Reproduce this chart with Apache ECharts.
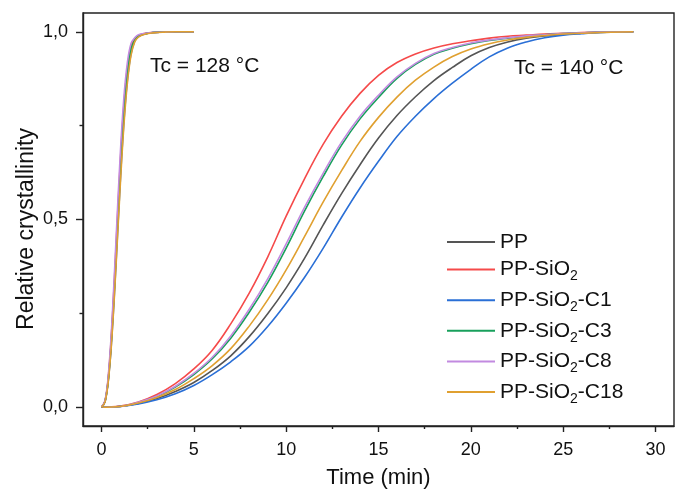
<!DOCTYPE html>
<html>
<head>
<meta charset="utf-8">
<script src="https://cdn.jsdelivr.net/npm/echarts@6/dist/echarts.min.js"></script>
<style>html,body{margin:0;padding:0;background:#fff}#c{width:680px;height:489px}</style>
</head>
<body>
<div id="c"></div>
<script>
// ---- data ----
const seriesNames = ['PP', 'PP-SiO2', 'PP-SiO2-C1', 'PP-SiO2-C3', 'PP-SiO2-C8', 'PP-SiO2-C18'];
const legendLabels = ['PP', 'PP-SiO{s|2}', 'PP-SiO{s|2}-C1', 'PP-SiO{s|2}-C3', 'PP-SiO{s|2}-C8', 'PP-SiO{s|2}-C18'];
const colors = ['#555555', '#f54a4a', '#2a6fd6', '#18a05c', '#c28ae0', '#e0a030'];

const xTicks = [0, 5, 10, 15, 20, 25, 30];
const xMinorTicks = [2.5, 7.5, 12.5, 17.5, 22.5, 27.5];
const yTicks = [0, 0.5, 1.0];
const yMinorTicks = [0.25, 0.75];

// Tc = 128 °C
const t128 = [0, 0.2, 0.4, 0.6, 0.8, 1.0, 1.2, 1.4, 1.6, 1.8, 2.0, 2.4, 2.8, 3.4, 4.0, 5.0];
const pp128   = [0, 0.017, 0.090, 0.229, 0.413, 0.605, 0.769, 0.883, 0.950, 0.977, 0.988, 0.995, 0.998, 0.999, 1, 1];
const sio128  = [0, 0.018, 0.097, 0.246, 0.440, 0.636, 0.797, 0.903, 0.961, 0.981, 0.990, 0.996, 0.998, 0.999, 1, 1];
const c1_128  = [0, 0.016, 0.085, 0.217, 0.395, 0.584, 0.750, 0.869, 0.941, 0.975, 0.987, 0.995, 0.998, 0.999, 1, 1];
const c3_128  = [0, 0.017, 0.092, 0.234, 0.421, 0.615, 0.778, 0.890, 0.954, 0.978, 0.989, 0.995, 0.998, 0.999, 1, 1];
const c8_128  = [0, 0.019, 0.103, 0.258, 0.459, 0.658, 0.816, 0.917, 0.969, 0.984, 0.992, 0.996, 0.998, 0.999, 1, 1];
const c18_128 = [0, 0.015, 0.083, 0.212, 0.387, 0.574, 0.740, 0.862, 0.937, 0.973, 0.986, 0.994, 0.997, 0.999, 1, 1];

// Tc = 140 °C
const t140 = [0, 1, 2, 3, 4, 5, 6, 7, 8, 9, 10, 11, 12, 13, 14, 15, 16, 17, 18, 19, 20, 21, 22, 23, 24, 25, 26, 27, 28.8];
const pp140   = [0, 0.002, 0.010, 0.023, 0.042, 0.066, 0.098, 0.137, 0.188, 0.249, 0.318, 0.397, 0.485, 0.569, 0.646, 0.717, 0.777, 0.827, 0.870, 0.905, 0.936, 0.958, 0.973, 0.983, 0.989, 0.993, 0.996, 0.998, 1.0];
const sio140  = [0, 0.003, 0.014, 0.034, 0.063, 0.102, 0.152, 0.222, 0.304, 0.400, 0.509, 0.609, 0.700, 0.775, 0.836, 0.884, 0.918, 0.941, 0.957, 0.968, 0.976, 0.983, 0.988, 0.991, 0.994, 0.996, 0.998, 0.999, 1.0];
const c1_140  = [0, 0.002, 0.009, 0.020, 0.036, 0.058, 0.087, 0.121, 0.162, 0.215, 0.277, 0.346, 0.423, 0.506, 0.584, 0.655, 0.721, 0.775, 0.822, 0.863, 0.900, 0.933, 0.957, 0.973, 0.984, 0.991, 0.995, 0.998, 1.0];
const c3_140  = [0, 0.002, 0.012, 0.029, 0.054, 0.087, 0.129, 0.184, 0.253, 0.332, 0.424, 0.523, 0.614, 0.698, 0.768, 0.825, 0.876, 0.913, 0.940, 0.956, 0.968, 0.977, 0.983, 0.988, 0.992, 0.995, 0.997, 0.999, 1.0];
const c8_140  = [0, 0.002, 0.013, 0.030, 0.056, 0.090, 0.133, 0.190, 0.261, 0.342, 0.435, 0.533, 0.623, 0.706, 0.775, 0.831, 0.880, 0.916, 0.942, 0.958, 0.970, 0.978, 0.984, 0.989, 0.992, 0.995, 0.997, 0.999, 1.0];
const c18_140 = [0, 0.002, 0.011, 0.026, 0.047, 0.076, 0.111, 0.156, 0.216, 0.286, 0.366, 0.455, 0.546, 0.630, 0.708, 0.772, 0.826, 0.871, 0.906, 0.934, 0.954, 0.968, 0.978, 0.985, 0.990, 0.994, 0.996, 0.998, 1.0];

const data128 = [pp128, sio128, c1_128, c3_128, c8_128, c18_128];
const data140 = [pp140, sio140, c1_140, c3_140, c8_140, c18_140];

// ---- chart ----
const FONT = 'Liberation Sans, Arial, sans-serif';
const zip = (xs, ys) => xs.map((x, i) => [x, ys[i]]);
const series = [];
[data140, data128].forEach(set => {
  seriesNames.forEach((n, i) => {
    series.push({
      name: n, type: 'line', data: zip(set === data140 ? t140 : t128, set[i]),
      smooth: 0.4,
      symbol: 'none', lineStyle: { width: 1.6, color: colors[i] }, itemStyle: { color: colors[i] },
      animation: false, z: 3
    });
  });
});

const fmt = v => Number(v).toFixed(1).replace('.', ',');

const chart = echarts.init(document.getElementById('c'), null, { renderer: 'canvas' });
chart.setOption({
  backgroundColor: '#fff',
  animation: false,
  textStyle: { fontFamily: FONT },
  grid: { left: 83, top: 13, right: 6, bottom: 63, outerBoundsMode: 'none', containLabel: false,
          show: true, borderColor: '#222', borderWidth: 1.4, backgroundColor: 'transparent' },
  xAxis: [{
    type: 'value', min: -1, max: 31,
    name: 'Time (min)', nameLocation: 'middle', nameGap: 41,
    nameTextStyle: { fontSize: 22, color: '#111', fontFamily: FONT },
    axisLine: { show: true, onZero: false, lineStyle: { color: '#222', width: 1.4 } },
    axisTick: { show: true, length: 6, lineStyle: { color: '#222', width: 1.4 }, customValues: xTicks },
    axisLabel: { fontSize: 18, color: '#111', margin: 15, fontFamily: FONT, customValues: xTicks },
    splitLine: { show: false }
  }, {
    type: 'value', min: -1, max: 31, position: 'bottom',
    axisLine: { show: false, onZero: false },
    axisTick: { show: true, length: 3, lineStyle: { color: '#222', width: 1.4 }, customValues: xMinorTicks },
    axisLabel: { show: false },
    splitLine: { show: false }
  }],
  yAxis: [{
    type: 'value', min: -0.05, max: 1.05,
    axisLine: { show: true, onZero: false, lineStyle: { color: '#222', width: 1.4 } },
    axisTick: { show: true, length: 7, lineStyle: { color: '#222', width: 1.4 }, customValues: yTicks },
    axisLabel: { fontSize: 18, color: '#111', margin: 15, fontFamily: FONT, customValues: yTicks, formatter: fmt },
    splitLine: { show: false }
  }, {
    type: 'value', min: -0.05, max: 1.05, position: 'left',
    axisLine: { show: false, onZero: false },
    axisTick: { show: true, length: 3.5, lineStyle: { color: '#222', width: 1.4 }, customValues: yMinorTicks },
    axisLabel: { show: false },
    splitLine: { show: false }
  }],
  legend: {
    data: seriesNames,
    orient: 'vertical', left: 447, top: 231, padding: 0,
    icon: 'rect', itemWidth: 48, itemHeight: 2, itemGap: 5.6,
    formatter: name => legendLabels[seriesNames.indexOf(name)],
    textStyle: {
      fontSize: 21, color: '#111', fontFamily: FONT, lineHeight: 22,
      rich: { s: { fontSize: 14, lineHeight: 22, verticalAlign: 'bottom', padding: [0, 0, -3, 0], fontFamily: FONT, color: '#111' } }
    }
  },
  graphic: [
    { type: 'text', left: 150, top: 56, style: { text: 'Tc = 128 °C', fontSize: 21, fill: '#111', fontFamily: FONT } },
    { type: 'text', left: 514, top: 58, style: { text: 'Tc = 140 °C', fontSize: 21, fill: '#111', fontFamily: FONT } },
    { type: 'text', x: 27, y: 229, rotation: Math.PI / 2,
      style: { text: 'Relative crystallinity', fontSize: 23, fill: '#111', fontFamily: FONT, align: 'center', verticalAlign: 'middle' } }
  ],
  series: series
});
</script>
</body>
</html>
